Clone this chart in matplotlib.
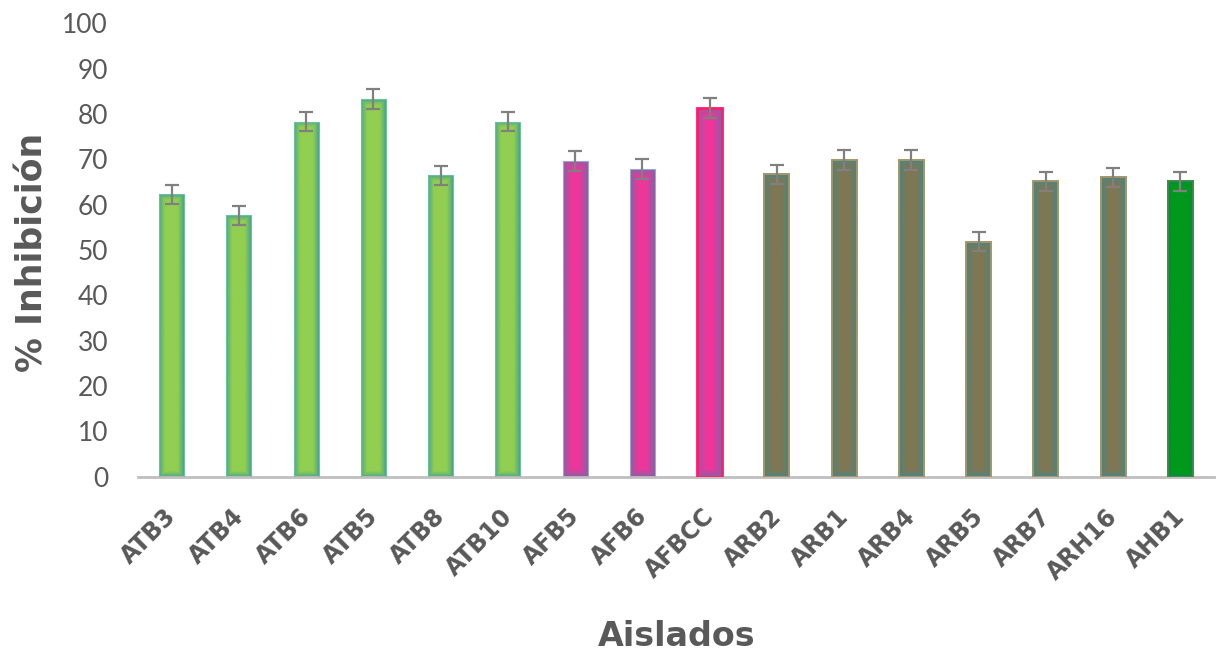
import numpy as np
import matplotlib
matplotlib.use("Agg")
import matplotlib.pyplot as plt
from matplotlib.colors import to_rgb
import matplotlib.transforms as mtransforms

categories = ["ATB3", "ATB4", "ATB6", "ATB5", "ATB8", "ATB10", "AFB5", "AFB6", "AFBCC",
              "ARB2", "ARB1", "ARB4", "ARB5", "ARB7", "ARH16", "AHB1"]
values = [62.3, 57.7, 78.3, 83.2, 66.5, 78.3, 69.7, 67.8, 81.4,
          66.7, 69.9, 69.9, 51.8, 65.2, 66.0, 65.2]
errors = [2.1, 2.1, 2.1, 2.2, 2.1, 2.1, 2.2, 2.2, 2.2,
          2.1, 2.2, 2.2, 2.1, 2.1, 2.1, 2.1]
groups = ["green"] * 6 + ["pink", "pink", "pinkred"] + ["brown"] * 6 + ["dark"]

styles = {
    "green":   dict(center="#92CE50", edge="#3FA291", line="#6CC0A8", lw=0.8, depth=6),
    "pink":    dict(center="#F0359A", edge="#7E64A8", line="#9AA8D0", lw=0.8, depth=9),
    "pinkred": dict(center="#F0359A", edge="#7E64A8", line="#FF1A6C", lw=2.0, depth=9),
    "brown":   dict(center="#7E7754", edge="#3F8A8A", line="#A89468", lw=1.4, depth=7),
    "dark":    dict(center="#00991C", edge="#0A8060", line="#3C8C40", lw=1.4, depth=4),
}

TEXT = "#595959"
BOLD_FONT = ["DejaVu Sans"]

W, H = 1216, 657
fig = plt.figure(figsize=(W / 100, H / 100), dpi=100)
ax = fig.add_axes([138 / W, 1 - 476.7 / H, (1214 - 138) / W, (476.7 - 23.3) / H])

x = np.arange(len(categories))
bw = 0.37
ax.set_xlim(-0.5, len(categories) - 0.5)
ax.set_ylim(0, 100)

px_per_x = (1214 - 138) / len(categories)
px_per_y = (476.7 - 23.3) / 100.0

for xi, v, g in zip(x, values, groups):
    st = styles[g]
    c0 = np.array(to_rgb(st["center"]))
    c1 = np.array(to_rgb(st["edge"]))
    nx = max(int(bw * px_per_x), 2)
    ny = max(int(v * px_per_y), 2)
    ix = np.arange(nx) + 0.5
    iy = np.arange(ny) + 0.5
    dx = np.minimum(ix, nx - ix)[None, :]
    dy = np.minimum(iy, ny - iy)[:, None]
    d = np.minimum(dx, dy)
    t = np.clip(d / st["depth"], 0, 1) ** 0.8
    img = c1[None, None, :] * (1 - t[..., None]) + c0[None, None, :] * t[..., None]
    rect = ax.bar(xi, v, width=bw, facecolor="none", edgecolor=st["line"],
                  linewidth=st["lw"], zorder=3)[0]
    im = ax.imshow(img, extent=(xi - bw / 2, xi + bw / 2, 0, v), origin="lower",
                   aspect="auto", interpolation="bilinear", zorder=2)
    im.set_clip_path(rect)

ax.errorbar(x, values, yerr=errors, fmt="none", ecolor="#808080", elinewidth=1.6,
            capsize=5, capthick=1.6, zorder=4)

ax.set_xlim(-0.5, len(categories) - 0.5)
ax.set_ylim(0, 100)

for s in ["top", "right", "left"]:
    ax.spines[s].set_visible(False)
ax.spines["bottom"].set_color("#BFBFBF")
ax.spines["bottom"].set_linewidth(2.0)

ax.set_yticks(np.arange(0, 101, 10))
ax.tick_params(axis="y", length=0, pad=21.5, labelsize=19, labelcolor=TEXT)
for lab in ax.get_yticklabels():
    lab.set_fontfamily("Lato")
ax.tick_params(axis="x", length=0, pad=0)
ax.set_xticks(x)
ax.set_xticklabels(categories, rotation=45, ha="right", va="center",
                   rotation_mode="anchor", fontsize=17, fontweight="bold",
                   color=TEXT, family=BOLD_FONT)
offset = mtransforms.ScaledTranslation(1 / 100, -36 / 100, fig.dpi_scale_trans)
for lab in ax.get_xticklabels():
    lab.set_transform(lab.get_transform() + offset)

ax.set_ylabel("% Inhibición", fontsize=25, fontweight="bold", color=TEXT,
              family=BOLD_FONT, va="center", ha="center")
ax.yaxis.set_label_coords(-(138 - 33) / 1076, (476.7 - 252) / 453.4)
ax.set_xlabel("Aislados", fontsize=24, fontweight="bold", color=TEXT,
              family=BOLD_FONT, va="center", ha="center")
ax.xaxis.set_label_coords((677 - 138) / 1076, -(637 - 476.7) / 453.4)

fig.savefig("out.png", dpi=100)
